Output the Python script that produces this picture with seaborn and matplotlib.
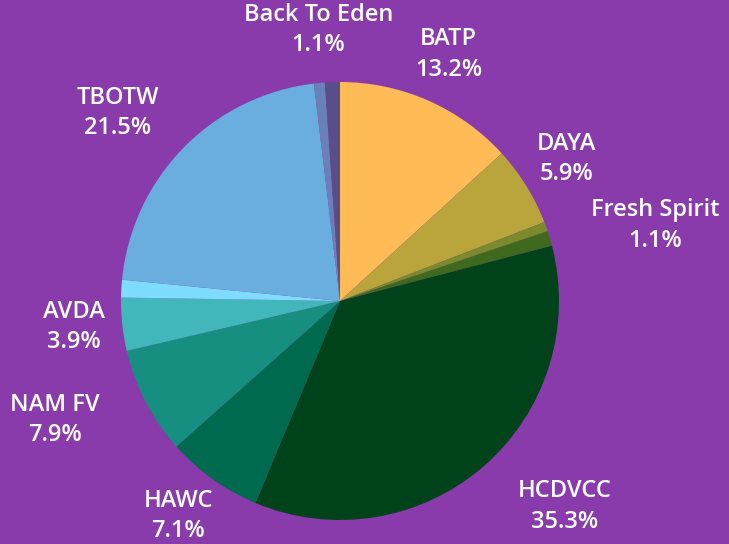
import numpy as np
import seaborn as sns
import matplotlib.pyplot as plt

# slices, clockwise from 12 o'clock
names = ["BATP", "DAYA", "", "Fresh Spirit", "HCDVCC", "HAWC", "NAM FV",
         "AVDA", "", "TBOTW", "", "Back To Eden"]
shares = [13.2, 5.9, 0.7, 1.1, 35.3, 7.1, 7.9, 3.9, 1.3, 21.5, 0.8, 1.1]
colors = ["#ffbb55", "#b9a53c", "#7b8a2c", "#3f6a1e", "#00431a", "#006a4e",
          "#178f80", "#42b7bb", "#7fdcff", "#6aaee0", "#6a80b8", "#5a4e8a"]

# label placement: distance (pie radii) and angle nudge (degrees)
label_r = [1.23, 1.22, 0, 1.48, 1.39, 1.23, 1.41, 1.22, 0, 1.33, 0, 1.24]
label_da = [0, 0.3, 0, -3.1, 6.6, -1.4, -4.7, -0.5, 0, 4.1, 0, 2.6]

bg = "#8a3bab"
sns.set_theme(style="white")
plt.rcParams["font.family"] = ["Open Sans", "DejaVu Sans"]

fig = plt.figure(figsize=(7.29, 5.44), dpi=100, facecolor=bg)
ax = fig.add_axes([0, 0, 1, 1])
ax.set_facecolor(bg)

wedges, _ = ax.pie(shares, colors=colors, startangle=90, counterclock=False,
                   radius=1.0, wedgeprops=dict(linewidth=0))

for w, name, pct, r, da in zip(wedges, names, shares, label_r, label_da):
    if not name:
        continue
    mid = np.deg2rad((w.theta1 + w.theta2) / 2 + da)
    ax.text(r * np.cos(mid), r * np.sin(mid), f"{name}\n{pct}%",
            ha="center", va="center", color="white", fontsize=17,
            fontweight="semibold", linespacing=1.35)

R = 219.0
ax.set_xlim(-340 / R, 389 / R)
ax.set_ylim(-243 / R, 301 / R)
ax.set_aspect("equal")
ax.axis("off")

fig.savefig("out.png", dpi=100, facecolor=bg)
